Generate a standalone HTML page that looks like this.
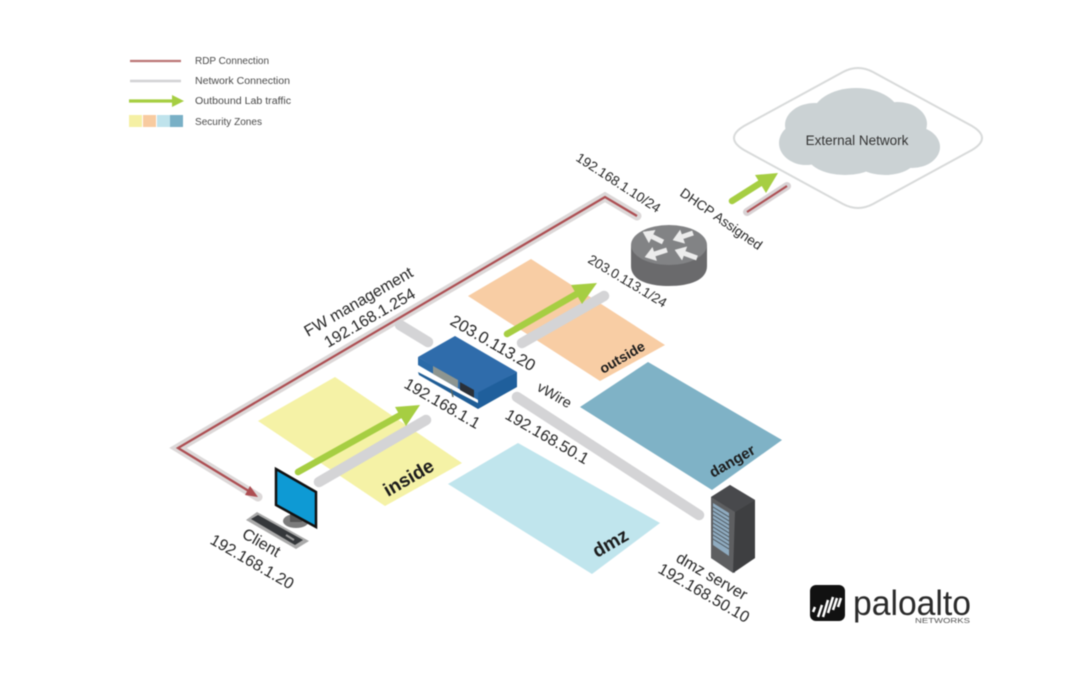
<!DOCTYPE html>
<html><head><meta charset="utf-8"><style>
html,body{margin:0;padding:0;background:#fff}
svg{display:block;filter:blur(.55px)}
text{font-family:"Liberation Sans",sans-serif;fill:#262626}
.n{stroke:#d4d4d6;stroke-width:10.5;fill:none;stroke-linecap:round;stroke-linejoin:miter}
.g{stroke:#a6ce42;stroke-width:6.5;fill:none;stroke-linecap:round}
.r{stroke:#ad4e52;stroke-width:2.2;fill:none}
.l{font-size:10px;fill:#4a4a4a}
.t{font-size:16px}
</style></head><body>
<svg width="1083" height="691" viewBox="0 0 1083 691" xmlns="http://www.w3.org/2000/svg">
<rect width="1083" height="691" fill="#fff"/>
<!-- legend -->
<path d="M130 61H181" stroke="#bb7474" stroke-width="2.2"/>
<path d="M130 81H181" stroke="#d2d2d4" stroke-width="2.6"/>
<path d="M129 101H174" stroke="#a6ce42" stroke-width="3.2"/>
<path d="M172 95L184 101L172 107Z" fill="#a6ce42"/>
<rect x="129" y="115" width="13" height="12" fill="#f5f0a4"/>
<rect x="143" y="115" width="13" height="12" fill="#f8cba0"/>
<rect x="157" y="115" width="13" height="12" fill="#bfe3ec"/>
<rect x="170" y="115" width="13" height="12" fill="#79b0c6"/>
<text class="l" x="195" y="64" textLength="74" lengthAdjust="spacingAndGlyphs">RDP Connection</text>
<text class="l" x="195" y="84" textLength="95" lengthAdjust="spacingAndGlyphs">Network Connection</text>
<text class="l" x="195" y="104" textLength="96" lengthAdjust="spacingAndGlyphs">Outbound Lab traffic</text>
<text class="l" x="195" y="125" textLength="67" lengthAdjust="spacingAndGlyphs">Security Zones</text>
<!-- zones -->
<path d="M258 421L335 377L462 463L385 506Z" fill="#f5f2a6"/>
<path d="M468 296L531 259L665 345L600 381Z" fill="#f8cda4"/>
<path d="M580 407L648 362L782 440L712 490Z" fill="#7fb2c6"/>
<path d="M448 484L518 443L660 523L592 574Z" fill="#c0e5ed"/>
<text transform="translate(388 497) rotate(-30)" style="font-size:19px;font-weight:bold;fill:#1c1c1c">inside</text>
<text transform="translate(603 374) rotate(-30)" style="font-size:14px;font-weight:bold;fill:#1c1c1c">outside</text>
<text transform="translate(713 478) rotate(-30)" style="font-size:15px;font-weight:bold;fill:#1c1c1c">danger</text>
<text transform="translate(597 558) rotate(-30)" style="font-size:19px;font-weight:bold;fill:#1c1c1c">dmz</text>
<!-- management path -->
<path d="M637 216L605 197L178 448L258 497" stroke="#dcd8d8" stroke-width="9" fill="none" stroke-linecap="round"/>
<path class="r" d="M637 216L605 197L178 448L252 493"/>
<path d="M258 497L245 495L250 486Z" fill="#ad4e52"/>
<!-- network links -->
<path class="n" d="M319 482L426 420"/>
<path class="n" d="M400 325L428 342"/>
<path class="n" d="M522 343L604 296"/>
<path class="n" d="M517 397L699 515"/>
<!-- green arrows -->
<path class="g" d="M298 472L404 413"/>
<path d="M420 405L395 407L406 426Z" fill="#a6ce42"/>
<path class="g" d="M507 334L580 292"/>
<path d="M597 283L571 285L582 304Z" fill="#a6ce42"/>
<path class="g" d="M732 201L762 182"/>
<path d="M778 173L755 175L766 193Z" fill="#a6ce42"/>
<path d="M747 212L787 186" stroke="#d8d2d4" stroke-width="8" stroke-linecap="round"/>
<path d="M747 212L787 186" stroke="#ad4e52" stroke-width="2"/>
<!-- external network -->
<path d="M744 126L843 72Q858 64 873 72L972 126Q992 138 972 150L873 204Q858 212 843 204L744 150Q724 138 744 126Z" fill="#fff" stroke="#d8dada" stroke-width="2"/>
<g fill="#cbd2d4">
<ellipse cx="856" cy="116" rx="44" ry="28"/><ellipse cx="815" cy="125" rx="30" ry="22"/><ellipse cx="897" cy="124" rx="30" ry="22"/>
<ellipse cx="806" cy="143" rx="27" ry="22"/><ellipse cx="912" cy="147" rx="28" ry="21"/><ellipse cx="845" cy="155" rx="38" ry="20"/><ellipse cx="885" cy="157" rx="32" ry="18"/>
<rect x="805" y="115" width="105" height="45"/>
</g>
<text x="857" y="145" text-anchor="middle" style="font-size:13.5px;fill:#333">External Network</text>
<!-- router -->
<path d="M631 245V266C631 280 648 286 669 286C690 286 707 280 707 266V245Z" fill="#6a6a6c"/>
<ellipse cx="669" cy="245" rx="38" ry="20" fill="#828385"/>
<g fill="#ececec" stroke="#ececec">
<path d="M663 242L652 236.5" stroke-width="5"/><path d="M643 232L648.9 242.7L655.1 230.3Z" stroke-width=".5"/>
<path d="M693 233L682.4 236.7" stroke-width="5"/><path d="M673 240L684.7 243.3L680.1 230.1Z" stroke-width=".5"/>
<path d="M667 250L654.5 254" stroke-width="5"/><path d="M645 257L656.6 260.6L652.4 247.4Z" stroke-width=".5"/>
<path d="M697 258L684.4 253.4" stroke-width="5"/><path d="M675 250L682 260L686.8 246.8Z" stroke-width=".5"/>
</g>
<!-- firewall -->
<path d="M418 372L478 403L517 384V387L478 409L419 375Z" fill="#1f5d96"/>
<path d="M477 392L517 372V386L478 408Z" fill="#1f5f9c"/>
<path d="M418 357L478 392V400L418 365Z" fill="#2a6aa8"/>
<path d="M418 357L455 336L517 372L477 393Z" fill="#2f6cab"/>
<path d="M433 366L458 380V388L433 374Z" fill="#8d9590"/>
<path d="M460 382L474 390V398L460 390Z" fill="#2a3038"/>
<path d="M420 369L478 400V403L419 371Z" fill="#fff"/>
<path d="M451 389L453 397" stroke="#566" stroke-width="1.5"/>
<!-- client -->
<ellipse cx="296" cy="521" rx="13" ry="7" fill="#7c7c7c"/>
<path d="M290 510H302V522H290Z" fill="#555"/>
<path d="M276 469L316 492V527L276 505Z" fill="#0e9ad4" stroke="#111" stroke-width="2.5"/>
<path d="M246 520L257 512L309 541L296 549Z" fill="#aaa"/>
<path d="M251 519L258 515L303 540L295 545Z" fill="#35383b"/>
<path d="M286 535L294 540" stroke="#999" stroke-width="2"/>
<!-- server -->
<path d="M711 497L730 485L755 500V558L733 573L711 558Z" fill="#5b5c5e"/>
<path d="M711 497L735 512V573L711 558Z" fill="#5e5f61"/>
<path d="M735 512L755 500V558L733 573Z" fill="#3e3f41"/>
<path d="M711 497L730 485L755 500L735 512Z" fill="#48494c"/>
<path d="M713 503L729 513V556L713 545Z" fill="#8fabc0"/>
<g stroke="#4a5258" stroke-width=".8">
<path d="M713 507L729 517M713 511L729 521M713 515L729 525M713 519L729 529M713 523L729 533M713 527L729 537M713 531L729 541M713 535L729 545M713 539L729 549"/>
</g>
<!-- labels -->
<text class="t" transform="translate(308 337) rotate(-30)">FW management</text>
<text class="t" transform="translate(328 348) rotate(-30)">192.168.1.254</text>
<text transform="translate(575 160) rotate(33)" style="font-size:13.5px">192.168.1.10/24</text>
<text transform="translate(679 195) rotate(35)" style="font-size:13.5px">DHCP Assigned</text>
<text transform="translate(587 262) rotate(31)" style="font-size:13.5px">203.0.113.1/24</text>
<text transform="translate(449 324) rotate(30)" style="font-size:16.5px">203.0.113.20</text>
<text class="t" transform="translate(403 387) rotate(30)">192.168.1.1</text>
<text transform="translate(536 390) rotate(30)" style="font-size:14.5px">vWire</text>
<text class="t" transform="translate(504 418) rotate(30)">192.168.50.1</text>
<text class="t" transform="translate(241 537) rotate(30)">Client</text>
<text class="t" transform="translate(209 543) rotate(30)">192.168.1.20</text>
<text class="t" transform="translate(675 561) rotate(30)">dmz server</text>
<text class="t" transform="translate(657 572) rotate(30)">192.168.50.10</text>
<!-- logo -->
<rect x="810" y="585" width="35" height="36" rx="6" fill="#111"/>
<path d="M813 612l2-5M818 617l4-12M823 617l5-17M828 613l5-16M833 610l4-12M838 607l3-9" stroke="#fff" stroke-width="2.5" fill="none"/>
<text x="853" y="615" style="font-size:35px;fill:#2a2a2a" textLength="118" lengthAdjust="spacingAndGlyphs">paloalto</text>
<text x="915" y="623" style="font-size:7px;fill:#555" textLength="55" lengthAdjust="spacingAndGlyphs">NETWORKS</text>
</svg>
</body></html>
